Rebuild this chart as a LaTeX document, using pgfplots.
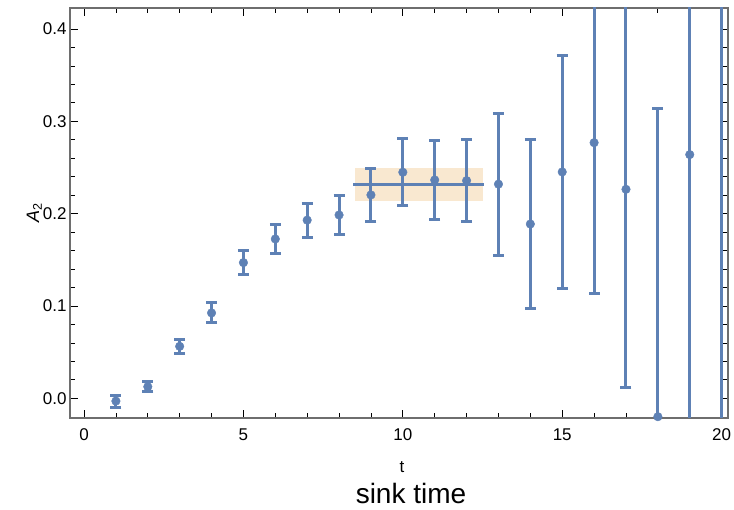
\documentclass[border=0pt]{standalone}
\usepackage{pgfplots}
\pgfplotsset{compat=1.18}
\usepackage{fontspec}
\setmainfont{Liberation Sans}
\definecolor{mblue}{RGB}{94,129,181}
\definecolor{band}{RGB}{249,232,208}
\definecolor{frame}{RGB}{110,110,110}
\begin{document}
\begin{tikzpicture}
\useasboundingbox (0,0) rectangle (734pt,510pt);
\begin{axis}[
  name=ax,
  at={(70pt,92pt)}, anchor=south west,
  scale only axis, width=658pt, height=410pt,
  xmin=-0.44, xmax=20.2, ymin=-0.0213, ymax=0.4228,
  xtick={0,5,10,15,20}, minor x tick num=4,
  ytick={0,0.1,0.2,0.3,0.4}, minor y tick num=4,
  tick align=inside,
  major tick length=8pt, minor tick length=5pt,
  axis line style={frame, line width=1.2pt},
  every tick/.style={black, line width=0.8pt},
  tick label style={font=\fontsize{17}{20}\selectfont},
  /pgf/number format/assume math mode=true,
  yticklabel style={/pgf/number format/.cd, fixed, fixed zerofill, precision=1},
  xticklabel style={yshift=-7pt},
  ylabel={\fontsize{18}{20}\selectfont\textit{A}\textsubscript{2}},
  ylabel style={yshift=-6pt},
  clip=true,
]
\addplot[fill=band, draw=none] coordinates {(8.5,0.214) (12.5,0.214) (12.5,0.250) (8.5,0.250)} -- cycle;
\addplot[mblue, line width=2.8pt, no marks] coordinates {(8.45,0.2315) (12.55,0.2315)};
\addplot[mblue, only marks, mark=*, mark size=4.3pt, mark options={draw=mblue, fill=mblue},
  error bars/.cd, y dir=both, y explicit,
  error bar style={line width=3pt, mblue},
  error mark options={rotate=90, mark size=5.5pt, line width=3pt, mblue}]
  coordinates {
  (1,-0.003) +- (0,0.0065)
  (2,0.0126) +- (0,0.0056)
  (3,0.0563) +- (0,0.0077)
  (4,0.0925) +- (0,0.0108)
  (5,0.147) +- (0,0.0132)
  (6,0.1726) +- (0,0.0155)
  (7,0.193) +- (0,0.0184)
  (8,0.1986) +- (0,0.0215)
  (9,0.2203) +- (0,0.029)
  (10,0.2449) +- (0,0.0365)
  (11,0.2365) +- (0,0.0432)
  (12,0.2358) +- (0,0.0445)
  (13,0.232) +- (0,0.0768)
  (14,0.1888) +- (0,0.092)
  (15,0.2452) +- (0,0.126)
  (16,0.2769) +- (0,0.163)
  (17,0.2264) +- (0,0.215)
  (18,-0.0199) +- (0,0.3334)
  (19,0.264) +- (0,0.42)
  (20,0.47) +- (0,0.6)
  };
\end{axis}
\node[font=\fontsize{17}{20}\selectfont, anchor=base, inner sep=0pt] at (402pt,37pt) {t};
\node[font=\fontsize{28}{32}\selectfont, anchor=base, inner sep=0pt] at (411pt,6pt) {sink time};
\end{tikzpicture}
\end{document}
